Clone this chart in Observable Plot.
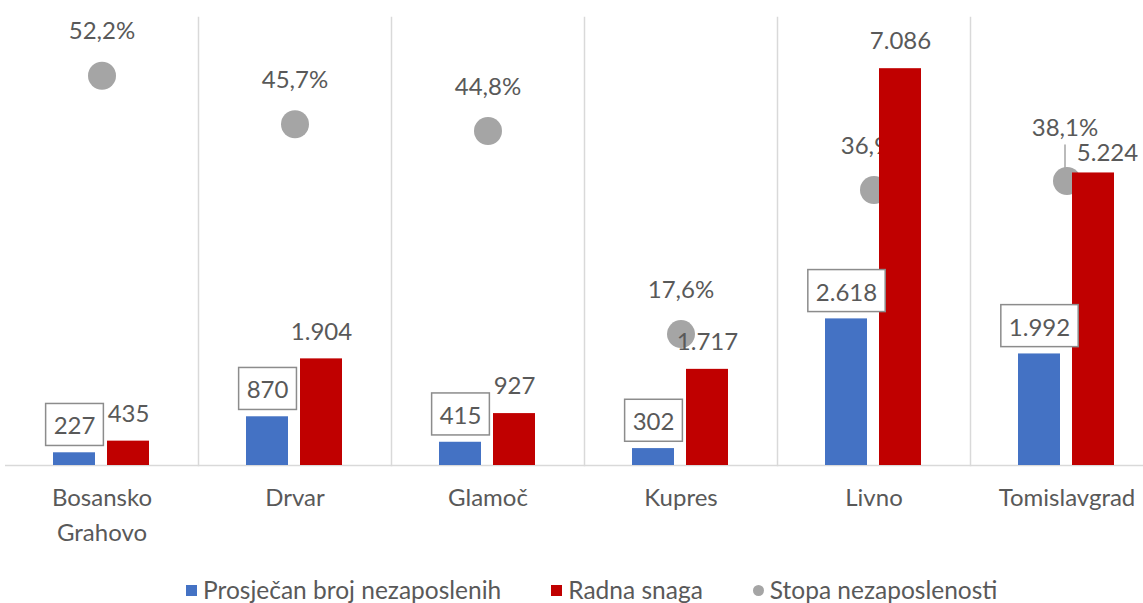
<!DOCTYPE html>
<html><head><meta charset="utf-8">
<script src="https://cdn.jsdelivr.net/npm/d3@7"></script>
<script src="https://cdn.jsdelivr.net/npm/@observablehq/plot@0.6"></script>
<style>
html,body{margin:0;padding:0;overflow:hidden;background:#fff;}
#wrap{position:relative;width:1143px;height:603px;overflow:hidden;font-family:Lato,sans-serif;background:#fff;}
#chart{position:absolute;left:0;top:0;width:1163px;}
#chart svg{max-width:none !important;}
#legend{position:absolute;left:186px;top:576px;display:flex;align-items:center;color:#595959;font-size:24.5px;line-height:28px;white-space:nowrap;}
#legend .item{display:flex;align-items:center;margin-right:50px;}
#legend .sw{width:11px;height:11px;margin-right:6px;}
</style></head><body>
<div id="wrap"><div id="chart"></div><div id="legend"></div></div>
<script>
const categories = ["Bosansko Grahovo", "Drvar", "Glamoč", "Kupres", "Livno", "Tomislavgrad"];
const tickLabels = ["Bosansko\nGrahovo", "Drvar", "Glamoč", "Kupres", "Livno", "Tomislavgrad"];
const seriesNames = ["Prosječan broj nezaposlenih", "Radna snaga", "Stopa nezaposlenosti"];
const unemployed = [227, 870, 415, 302, 2618, 1992];
const labourForce = [435, 1904, 927, 1717, 7086, 5224];
const unemploymentRate = [52.2, 45.7, 44.8, 17.6, 36.9, 38.1];
const colors = ["#4472C4", "#C00000", "#A5A5A5"];
const yMax = 8000;     // primary axis maximum
const rateMax = 60;    // secondary axis maximum (%)

const locale = d3.formatLocale({decimal: ",", thousands: ".", grouping: [3], currency: ["", ""]});
const fmtNum = locale.format(",d");
const fmtRate = locale.format(".1f");
const fmtPct = v => fmtRate(v) + "%";

const bars = categories.flatMap((c, i) => [
  {category: c, series: seriesNames[0], value: unemployed[i]},
  {category: c, series: seriesNames[1], value: labourForce[i]}
]);
const rates = categories.map((c, i) => ({category: c, rate: unemploymentRate[i]}));
const rateY = d => d.rate / rateMax * yMax;

const textColor = "#595959";
const fs = 24;
const leaderCategory = "Tomislavgrad";
const isLeader = d => d.category === leaderCategory;
const notLeader = d => d.category !== leaderCategory;
const leaderShape = {draw(context, l) { context.moveTo(0, 0); context.lineTo(0, -l); }};
const redBars = bars.filter(d => d.series === seriesNames[1]);
const blueBars = bars.filter(d => d.series === seriesNames[0]);

const plot = Plot.plot({
  width: 1163, height: 560,
  marginTop: 17, marginBottom: 95, marginLeft: 4, marginRight: 0,
  style: {fontFamily: "Lato, sans-serif", background: "white", maxWidth: "none"},
  fx: {domain: categories, padding: 0, axis: null},
  x: {domain: seriesNames.slice(0, 2), paddingInner: 0.218, paddingOuter: 0.866, axis: null},
  y: {domain: [0, yMax], axis: null},
  color: {domain: seriesNames.slice(0, 2), range: colors.slice(0, 2)},
  marks: [
    Plot.frame({anchor: "right", stroke: "#D9D9D9", strokeWidth: 1.5}),
    Plot.ruleY([0], {stroke: "#D9D9D9", strokeWidth: 1.5}),
    Plot.text(categories, {fx: d => d, text: (d, i) => tickLabels[i], frameAnchor: "bottom", lineAnchor: "top", dy: 16, lineHeight: 1.45, fill: textColor, fontSize: fs}),
    Plot.text(rates.filter(notLeader), {fx: "category", y: rateY, text: d => fmtPct(d.rate), dy: -44, fill: textColor, fontSize: fs}),
    Plot.text(rates.filter(isLeader), {fx: "category", y: rateY, text: d => fmtPct(d.rate), dx: -2, dy: -53, fill: textColor, fontSize: fs}),
    Plot.vector(rates.filter(isLeader), {fx: "category", y: rateY, length: 36, rotate: 0, anchor: "start", shape: leaderShape, dx: -2, stroke: colors[2], strokeWidth: 1.5}),
    Plot.dot(rates, {fx: "category", y: rateY, r: 14, dx: 0, fill: colors[2]}),
    Plot.barY(bars, {fx: "category", x: "series", y: "value", fill: "series"}),
    Plot.text(redBars.filter(notLeader), {fx: "category", x: "series", y: "value", text: d => fmtNum(d.value), dy: -27, fill: textColor, fontSize: fs}),
    Plot.text(redBars.filter(isLeader), {fx: "category", x: "series", y: "value", text: d => fmtNum(d.value), dx: 14, dy: -20, fill: textColor, fontSize: fs}),
    Plot.text(blueBars, {fx: "category", x: "series", y: "value", text: d => fmtNum(d.value), dy: -26, fill: textColor, fontSize: fs, ariaDescription: "boxed"})
  ]
});
document.getElementById("chart").append(plot);

// draw Excel-style boxes around the boxed data labels
const NS = "http://www.w3.org/2000/svg";
plot.querySelectorAll('g[aria-description="boxed"] text').forEach(t => {
  const b = t.getBBox();
  const r = document.createElementNS(NS, "rect");
  r.setAttribute("x", b.x - 8);
  r.setAttribute("y", b.y - 7);
  r.setAttribute("width", b.width + 16);
  r.setAttribute("height", b.height + 13);
  const tr = t.getAttribute("transform");
  if (tr) r.setAttribute("transform", tr);
  r.setAttribute("fill", "white");
  r.setAttribute("stroke", "#8C8C8C");
  r.setAttribute("stroke-width", 1.5);
  t.parentNode.insertBefore(r, t);
});

// legend
const legend = document.getElementById("legend");
seriesNames.forEach((name, i) => {
  const item = document.createElement("div");
  item.className = "item";
  const sw = document.createElement("span");
  sw.className = "sw";
  sw.style.background = colors[i];
  if (i === 2) sw.style.borderRadius = "50%";
  const label = document.createElement("span");
  label.textContent = name;
  item.append(sw, label);
  legend.append(item);
});
</script>
</body></html>
